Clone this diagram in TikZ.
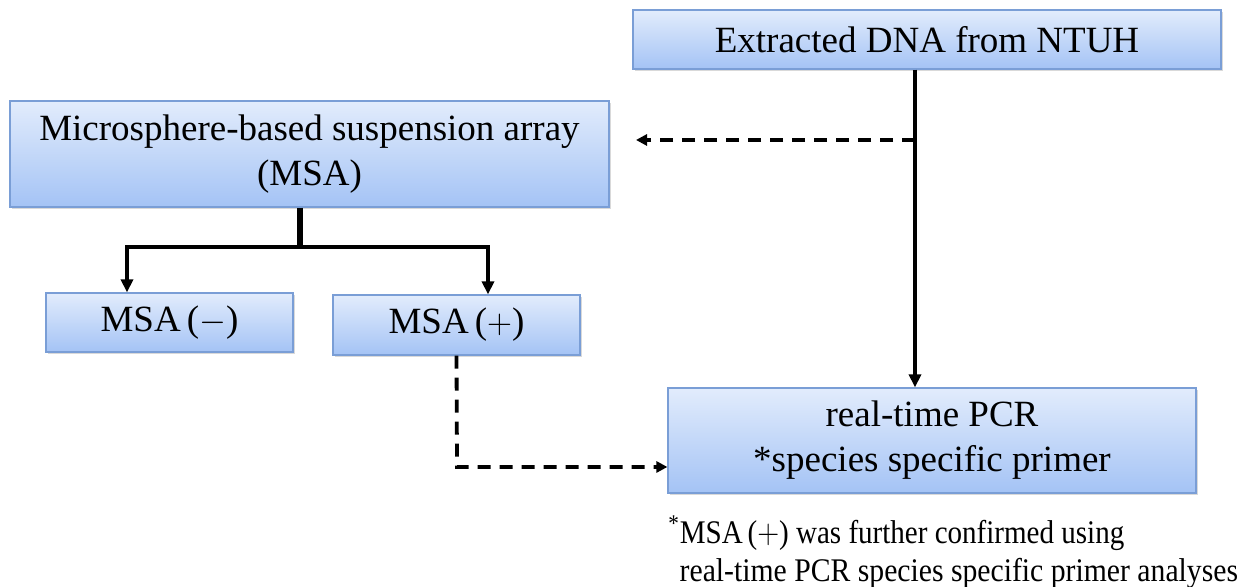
\documentclass[tikz,border=0pt]{standalone}
\usepackage{fontspec}
\setmainfont{Liberation Serif}
\usepackage{tikz}
\usetikzlibrary{arrows.meta, positioning, shadows}
\definecolor{boxtop}{HTML}{E2ECFC}
\definecolor{boxbot}{HTML}{A4C3F5}
\definecolor{boxedge}{HTML}{7A9ED6}
\tikzset{
  box/.style ={rectangle, draw=boxedge, line width=0.6pt, top color=boxtop, bottom color=boxbot,
               align=center, inner sep=2pt, font=\fontsize{18.5}{22.5}\selectfont,
               drop shadow={shadow xshift=0.8pt, shadow yshift=-1.2pt, opacity=0.3}},
  note/.style={align=left, inner sep=0pt, font=\fontsize{16.5}{19}\selectfont},
  fl/.style  ={line width=1.9pt, -{Triangle[length=6.5pt, width=6pt]}},
  dfl/.style ={line width=1.9pt, dash pattern=on 6.5pt off 4.5pt, -{Triangle[length=5.5pt, width=5.5pt]}},
  stem/.style={line width=3pt},
}
\begin{document}
\begin{tikzpicture}[x=0.5pt, y=0.5pt]
  \useasboundingbox (0,0) rectangle (1249,587);
  \node[box, minimum width=294pt, minimum height=29.5pt] (dna) at (927,547.5) {Extracted DNA from NTUH};
  \node[box, minimum width=299.5pt, minimum height=53pt] (msa) at (309.5,433) {Microsphere-based suspension array\\(MSA)};
  \node[box, minimum width=123.5pt, minimum height=29.5pt] (neg) at (169.5,264.5) {MSA\,($-$)};
  \node[box, minimum width=123.5pt, minimum height=30pt] (pos) at (456.5,262) {MSA\,($+$)};
  \node[box, minimum width=264pt, minimum height=52.5pt] (pcr) at (932,146.5) {real-time PCR\\*species specific primer};
  \node[note, anchor=north west] (fn) at (668,72) {\scalebox{0.88}[1]{\textsuperscript{\large *}MSA\,($+$) was further confirmed using}\\
    \scalebox{0.9}[1]{\phantom{\textsuperscript{*}}real-time PCR species specific primer analyses}};
  \coordinate (tap) at (915,447);
  \coordinate (tapend) at (636,447);
  \coordinate (fork) at (300,340);
  \coordinate (lft) at (127,340);
  \coordinate (rgt) at (488,340);
  \coordinate (bend) at (457,120);
  \draw[fl] (dna.south -| tap) -- (pcr.north -| tap);
  \draw[dfl] (tap) -- (tapend);
  \draw[stem] (msa.south -| fork) -- (fork);
  \draw[fl] (fork) -- (lft) -- (lft |- neg.north);
  \draw[fl] (fork) -- (rgt) -- (rgt |- pos.north);
  \draw[dfl] (pos.south) -- (bend) -- (pcr.west |- bend);
\end{tikzpicture}
\end{document}
